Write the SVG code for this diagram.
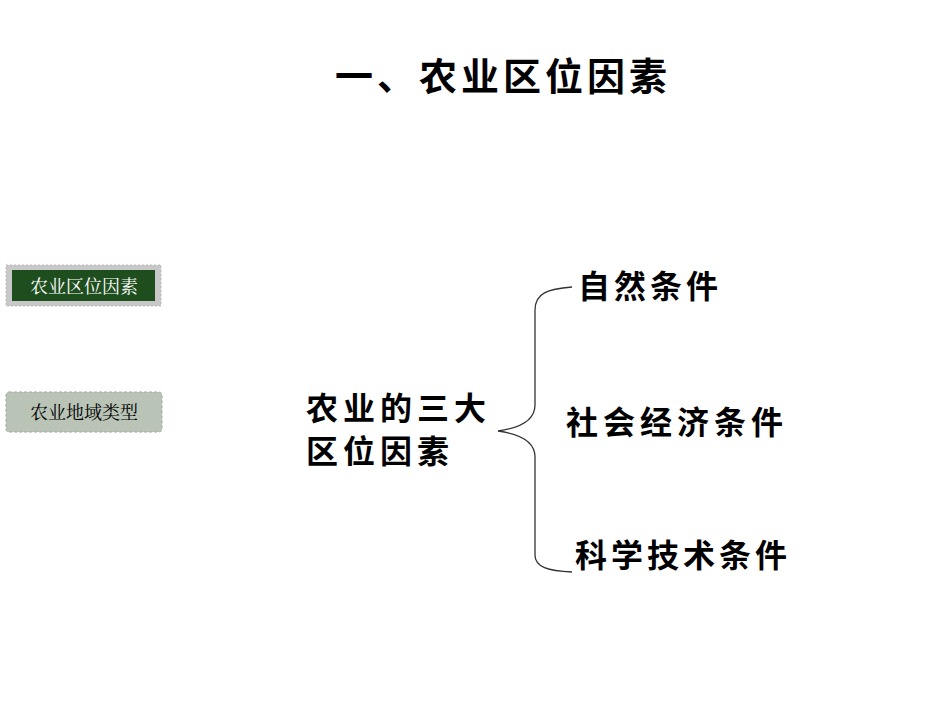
<svg xmlns="http://www.w3.org/2000/svg" width="950" height="713" viewBox="0 0 950 713">
<style>
.t{font-family:"Noto Sans CJK SC","Liberation Sans",sans-serif;fill:#000;font-weight:bold}
.b{font-family:"Noto Serif CJK SC","Noto Sans CJK SC","Liberation Serif",serif;font-size:18px}
</style>
<rect width="950" height="713" fill="#fff"/>
<text class="t" x="335" y="90" font-size="38" letter-spacing="4">一、农业区位因素</text>
<g id="btn1">
<rect x="6" y="265" width="155" height="41" fill="#c8c8c8" stroke="#bbb" stroke-dasharray="2 2"/>
<rect x="12" y="270" width="143" height="31" fill="#1e4d1e"/>
<text class="b" x="84" y="293" text-anchor="middle" fill="#fff">农业区位因素</text>
</g>
<g id="btn2">
<rect x="6" y="392" width="156" height="40" rx="3" fill="#b9c4b7" stroke="#a0a8a0" stroke-dasharray="3 2"/>
<text class="b" x="84" y="419" text-anchor="middle" fill="#000">农业地域类型</text>
</g>
<g id="main">
<text class="t" x="306" y="420" font-size="32" letter-spacing="5">农业的三大</text>
<text class="t" x="306" y="463" font-size="32" letter-spacing="5">区位因素</text>
</g>
<g id="connectors">
<path d="M572,287 C548,289 535,293 535,310 L535,405 C535,420 520,428 498,431 C520,434 535,442 535,457 L535,555 C535,567 548,571 572,572" fill="none" stroke="#333" stroke-width="1.3"/>
</g>
<g id="n1"><text class="t" x="578" y="298" font-size="32" letter-spacing="4">自然条件</text></g>
<g id="n2"><text class="t" x="566" y="434" font-size="32" letter-spacing="5">社会经济条件</text></g>
<g id="n3"><text class="t" x="575" y="567" font-size="32" letter-spacing="4">科学技术条件</text></g>
</svg>
